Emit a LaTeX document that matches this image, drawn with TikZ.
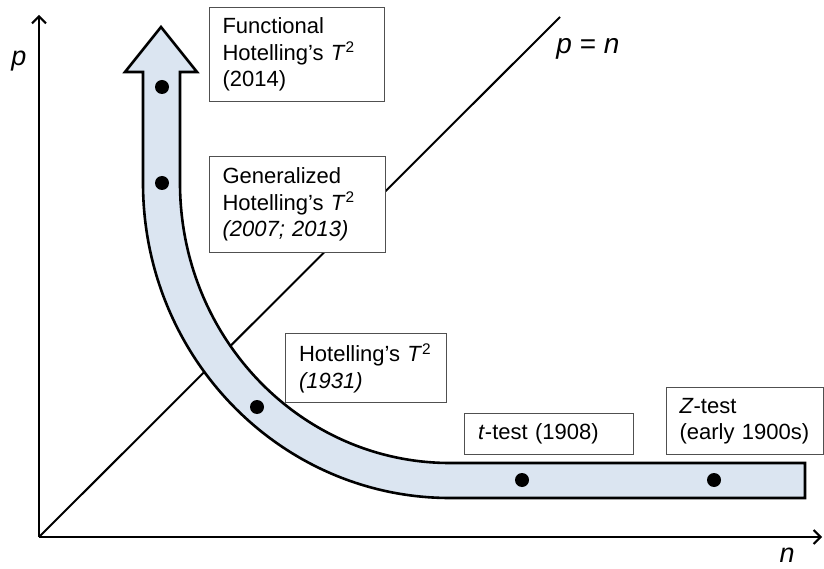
\documentclass[tikz,border=0pt]{standalone}
\usepackage{fontspec}
\setmainfont{Liberation Sans}
\usetikzlibrary{arrows.meta}
\definecolor{bandfill}{HTML}{DBE5F1}
\definecolor{boxline}{HTML}{505050}
\begin{document}
\begin{tikzpicture}[x=1pt,y=1pt,
  axis/.style={line width=2pt,-{Straight Barb[length=7pt,width=14pt,line width=2pt]}},
  dot/.style={circle,fill=black,minimum size=14pt,inner sep=0pt},
  label/.style={draw=boxline,line width=1.1pt,fill=white,align=left,anchor=north west,
     inner xsep=13pt,inner ysep=0pt,font=\fontsize{22}{26.5}\selectfont},
  axlabel/.style={font=\fontsize{27}{30}\selectfont\itshape}]
\useasboundingbox (0,0) rectangle (824,568);
% axes
\coordinate (O) at (39,31);
\coordinate (ytip) at (39,553);
\coordinate (xtip) at (822,31);
\coordinate (diag) at (560,551);
\draw[axis] (O) -- (ytip);
\draw[axis] (O) -- (xtip);
\draw[line width=2pt] (O) -- (diag);
\node[axlabel] (plab) at (19,507) {p};
\node[axlabel] (nlab) at (787,13) {n};
\node[font=\fontsize{28}{32}\selectfont] (pn) at (588,519) {\textit{p} = \textit{n}};
% band
\draw[line width=2.6pt,fill=bandfill,line join=miter]
  (143,496) -- (143,385)
  arc[start angle=180,end angle=270,x radius=307pt,y radius=315pt]
  -- (805,70) -- (805,105) -- (450,105)
  arc[start angle=270,end angle=180,x radius=270pt,y radius=280pt]
  -- (180,496) -- (197,496) -- (161,541) -- (125,496) -- cycle;
% dots
\node[dot] (d1) at (162,481) {};
\node[dot] (d2) at (162,385) {};
\node[dot] (d3) at (257,161) {};
\node[dot] (d4) at (522,88) {};
\node[dot] (d5) at (714,88) {};
% labels
\node[label,minimum width=175pt,minimum height=94pt,text width=149pt] (b1) at (209,561)
  {Functional\\Hotelling’s \textit{T}\textsuperscript{2}\\(2014)};
\node[label,minimum width=176pt,minimum height=96pt,text width=150pt] (b2) at (209,412)
  {Generalized\\Hotelling’s \textit{T}\textsuperscript{2}\\\textit{(2007; 2013)}};
\node[label,minimum width=161pt,minimum height=69pt,text width=134pt] (b3) at (285,235)
  {Hotelling’s \textit{T}\textsuperscript{2}\\\textit{(1931)}};
\node[label,minimum width=169pt,minimum height=41pt,text width=142pt] (b4) at (464,155)
  {\textit{t}-test (1908)};
\node[label,minimum width=157pt,minimum height=67pt,text width=131pt] (b5) at (666,181)
  {\textit{Z}-test\\(early 1900s)};
\end{tikzpicture}
\end{document}
